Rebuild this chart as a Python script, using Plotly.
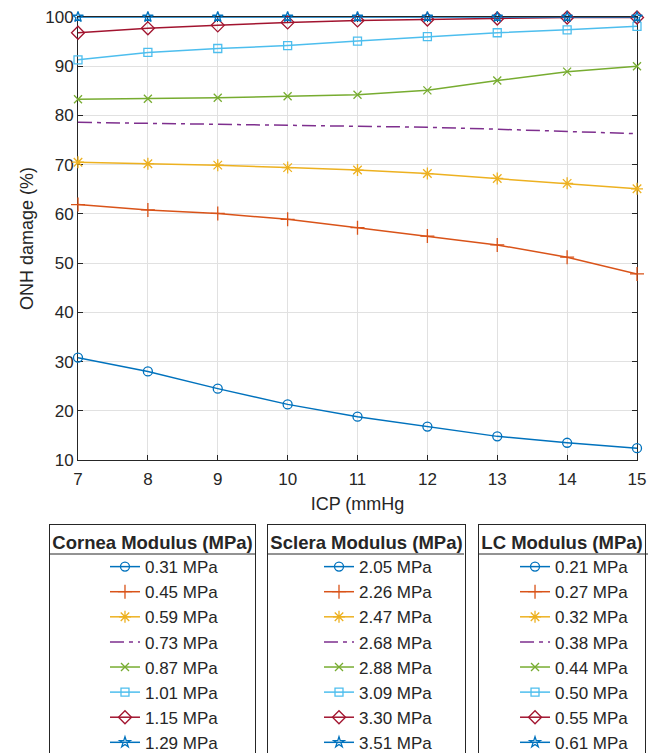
import plotly.graph_objects as go

icp = [7, 8, 9, 10, 11, 12, 13, 14, 15]

cornea_labels = ["0.31 MPa", "0.45 MPa", "0.59 MPa", "0.73 MPa", "0.87 MPa", "1.01 MPa", "1.15 MPa", "1.29 MPa"]
sclera_labels = ["2.05 MPa", "2.26 MPa", "2.47 MPa", "2.68 MPa", "2.88 MPa", "3.09 MPa", "3.30 MPa", "3.51 MPa"]
lc_labels = ["0.21 MPa", "0.27 MPa", "0.32 MPa", "0.38 MPa", "0.44 MPa", "0.50 MPa", "0.55 MPa", "0.61 MPa"]

s1 = [30.8, 28.0, 24.5, 21.3, 18.8, 16.8, 14.8, 13.5, 12.4]
s2 = [61.9, 60.8, 60.1, 58.9, 57.2, 55.5, 53.7, 51.2, 47.8]
s3 = [70.5, 70.2, 69.9, 69.4, 68.9, 68.2, 67.2, 66.2, 65.1]
s4 = [78.6, 78.4, 78.3, 78.1, 77.9, 77.6, 77.2, 76.8, 76.3]
s5 = [83.3, 83.4, 83.6, 83.9, 84.2, 85.1, 87.1, 88.9, 90.0]
s6 = [91.3, 92.8, 93.6, 94.2, 95.1, 96.0, 96.8, 97.4, 98.1]
s7 = [96.8, 97.7, 98.3, 98.9, 99.3, 99.5, 99.7, 99.9, 99.9]
s8 = [100, 100, 100, 100, 100, 100, 100, 100, 100]
series = [s1, s2, s3, s4, s5, s6, s7, s8]

colors = ["#0072BD", "#D95319", "#EDB120", "#7E2F8E", "#77AC30", "#4DBEEE", "#A2142F", "#0072BD"]
symbols = ["circle-open", "cross-thin-open", "asterisk-open", None, "x-thin-open", "square-open", "diamond-open", "star-open"]
msizes = [9, 10, 10, 0, 8, 8, 10, 8]

fig = go.Figure()

for legname, labels in [("legend", cornea_labels), ("legend2", sclera_labels), ("legend3", lc_labels)]:
    for i, (lab, ys) in enumerate(zip(labels, series)):
        main = legname == "legend"
        mode = "lines" if symbols[i] is None else "lines+markers"
        marker = dict()
        if symbols[i] is not None:
            marker = dict(symbol=symbols[i], size=msizes[i], color=colors[i],
                          line=dict(color=colors[i], width=1.3))
        fig.add_trace(go.Scatter(
            x=icp if main else [None], y=ys if main else [None],
            mode=mode, name=lab,
            line=dict(color=colors[i], width=1.5,
                      dash="14px,5px,4px,5px" if symbols[i] is None else "solid"),
            marker=marker,
            legend=legname, legendgroup=legname + str(i),
            cliponaxis=False, showlegend=True,
        ))

axis_common = dict(
    showline=True, linecolor="#262626", linewidth=1, mirror="ticks",
    ticks="inside", ticklen=5, tickcolor="#262626", tickwidth=1,
    showgrid=True, gridcolor="#e1e1e1", gridwidth=1, layer="below traces",
    zeroline=False, tickfont=dict(size=17, color="#262626"), automargin=False,
)

fig.update_xaxes(range=[7, 15], dtick=1, tick0=7, ticklabelstandoff=4,
                 title=dict(text="ICP (mmHg", font=dict(size=18, color="#262626"), standoff=8),
                 **axis_common)
fig.update_yaxes(range=[10, 100], dtick=10, tick0=10,
                 title=dict(text="ONH damage (%)", font=dict(size=18, color="#262626"), standoff=6),
                 **axis_common)

leg_common = dict(
    bgcolor="rgba(0,0,0,0)", bordercolor="#262626", borderwidth=1,
    font=dict(size=17, color="#262626"), yanchor="top", xanchor="left",
    tracegroupgap=0, orientation="v",
)

ly = -0.1445
sep_y = -0.2122
legend_boxes = [(-0.0519, 0.3166), (0.3381, 0.6905), (0.7156, 1.0197)]

fig.update_layout(
    width=664, height=753,
    margin=dict(l=78, r=27, t=17, b=293, autoexpand=False),
    paper_bgcolor="white", plot_bgcolor="white",
    font=dict(family="Liberation Sans, Arial, sans-serif", color="#262626"),
    legend=dict(x=legend_boxes[0][0], y=ly, indentation=55,
                title=dict(text="<b>Cornea Modulus (MPa)</b>", side="top center", font=dict(size=18.5)),
                **leg_common),
    legend2=dict(x=legend_boxes[1][0], y=ly, indentation=51,
                 title=dict(text="<b>Sclera Modulus (MPa)</b>", side="top center", font=dict(size=18.5)),
                 **leg_common),
    legend3=dict(x=legend_boxes[2][0], y=ly, indentation=36,
                 title=dict(text="<b>LC Modulus (MPa)</b>", side="top center", font=dict(size=18.5)),
                 **leg_common),
)

for x0, x1 in legend_boxes:
    fig.add_shape(type="line", xref="paper", yref="paper", x0=x0, x1=x1, y0=sep_y, y1=sep_y,
                  line=dict(color="#262626", width=1), layer="above")

fig.write_html("out.html", config={"displayModeBar": False},
               post_script="document.body.style.margin='0';")
